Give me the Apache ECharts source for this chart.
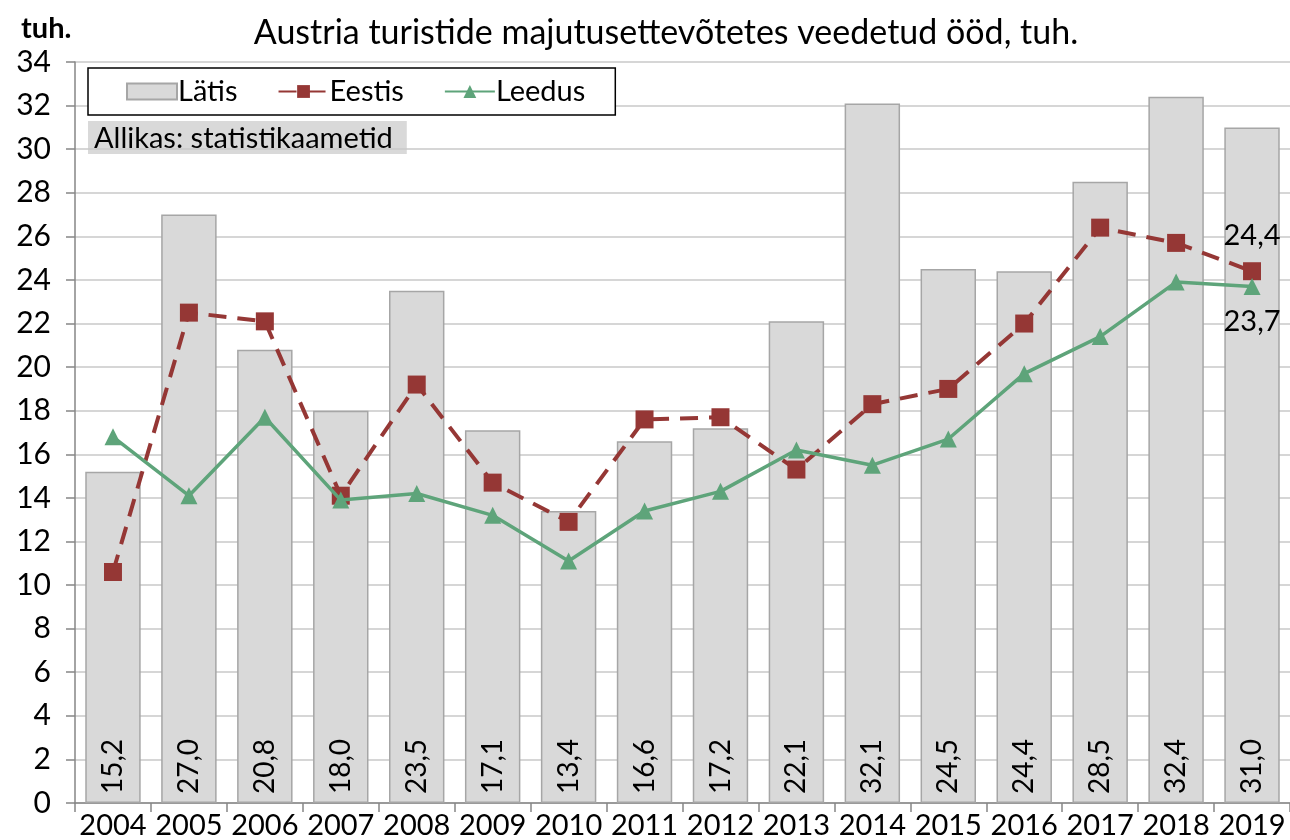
<!DOCTYPE html>
<html>
<head>
<meta charset="utf-8">
<script src="https://cdn.jsdelivr.net/npm/echarts@6/dist/echarts.min.js"></script>
<style>
  html, body { margin: 0; padding: 0; background: #fff; }
  #chart { width: 1290px; height: 840px; }
</style>
</head>
<body>
<div id="chart"></div>
<script>
var years = ['2004', '2005', '2006', '2007', '2008', '2009', '2010', '2011',
  '2012', '2013', '2014', '2015', '2016', '2017', '2018', '2019'];
var latis = [15.2, 27.0, 20.8, 18.0, 23.5, 17.1, 13.4, 16.6, 17.2, 22.1, 32.1, 24.5, 24.4, 28.5, 32.4, 31.0];
var eestis = [10.6, 22.5, 22.1, 14.1, 19.2, 14.7, 12.9, 17.6, 17.7, 15.3, 18.3, 19.0, 22.0, 26.4, 25.7, 24.4];
var leedus = [16.8, 14.1, 17.7, 13.9, 14.2, 13.2, 11.1, 13.4, 14.3, 16.2, 15.5, 16.7, 19.7, 21.4, 23.9, 23.7];

var fontName = 'Lato';

function comma(v) {
  return v.toFixed(1).replace('.', ',');
}

var chart = echarts.init(document.getElementById('chart'));

// viimane punkt saab sildi
function lastLabel(arr, pos) {
  return arr.map(function (v, i) {
    if (i == arr.length - 1) {
      return {
        value: v,
        label: {
          show: true, position: pos, distance: 12,
          fontSize: 29, color: '#000', fontFamily: fontName,
          formatter: function (p) { return comma(p.value); }
        }
      };
    }
    return v;
  });
}

var option = {
  animation: false,
  textStyle: { fontFamily: fontName },
  title: {
    text: 'Austria turistide majutusettevõtetes veedetud ööd, tuh.',
    left: 661, textAlign: 'center', top: 11,
    textStyle: { fontSize: 34, fontWeight: 'normal', color: '#000', fontFamily: fontName }
  },
  grid: { left: 75, right: 0, top: 62, bottom: 35, containLabel: false },
  legend: {
    left: 88, top: 68,
    width: 530,
    padding: [9, 30, 9, 38],
    borderColor: '#000', borderWidth: 1.5,
    backgroundColor: '#fff',
    itemGap: 40, itemWidth: 50, itemHeight: 16,
    textStyle: { fontSize: 29, color: '#000', fontFamily: fontName, padding: [0, 0, 0, -4] },
    data: [
      { name: 'Lätis', icon: 'rect' },
      { name: 'Eestis' },
      { name: 'Leedus' }
    ]
  },
  graphic: [
    {
      type: 'text', left: 88, top: 121,
      style: {
        text: 'Allikas: statistikaametid',
        fontSize: 29, fontFamily: fontName, fill: '#000',
        backgroundColor: '#d9d9d9', padding: [3, 14, 1, 6]
      }
    },
    {
      type: 'text', left: 21, top: 14,
      style: { text: 'tuh.', fontSize: 29, fontWeight: 'bold', fontFamily: fontName, fill: '#000' }
    }
  ],
  xAxis: {
    type: 'category',
    data: years,
    axisLine: { lineStyle: { color: '#868686', width: 1.5 } },
    axisTick: { show: true, length: 9, lineStyle: { color: '#868686', width: 1.5 } },
    axisLabel: { interval: 0, hideOverlap: false, fontSize: 29, color: '#000', margin: 8, fontFamily: fontName },
    splitLine: { show: false }
  },
  yAxis: {
    type: 'value',
    min: 0, max: 34, interval: 2,
    axisLine: { show: true, lineStyle: { color: '#868686', width: 1.5 } },
    axisTick: { show: true, length: 9, lineStyle: { color: '#868686', width: 1.5 } },
    axisLabel: { fontSize: 30, color: '#000', margin: 24, fontFamily: fontName },
    splitLine: { lineStyle: { color: '#c8c8c8', width: 1.5 } }
  },
  series: [
    {
      name: 'Lätis',
      type: 'bar',
      data: latis,
      barCategoryGap: '27%',
      itemStyle: { color: '#d9d9d9', borderColor: '#a6a6a6', borderWidth: 1.5 },
      label: {
        show: true, position: 'insideBottom', rotate: 90,
        align: 'left', verticalAlign: 'middle', distance: 9,
        fontSize: 28, color: '#000', fontFamily: fontName,
        formatter: function (p) { return comma(p.value); }
      },
      z: 1
    },
    {
      name: 'Eestis',
      type: 'line',
      data: lastLabel(eestis, 'top'),
      symbol: 'rect', symbolSize: 18,
      lineStyle: { color: '#953735', width: 4, type: [18, 11] },
      itemStyle: { color: '#953735' },
      z: 3
    },
    {
      name: 'Leedus',
      type: 'line',
      data: lastLabel(leedus, 'bottom'),
      symbol: 'triangle', symbolSize: 17,
      lineStyle: { color: '#5ea47a', width: 3.5 },
      itemStyle: { color: '#5ea47a' },
      z: 4
    }
  ]
};

chart.setOption(option);
</script>
</body>
</html>
